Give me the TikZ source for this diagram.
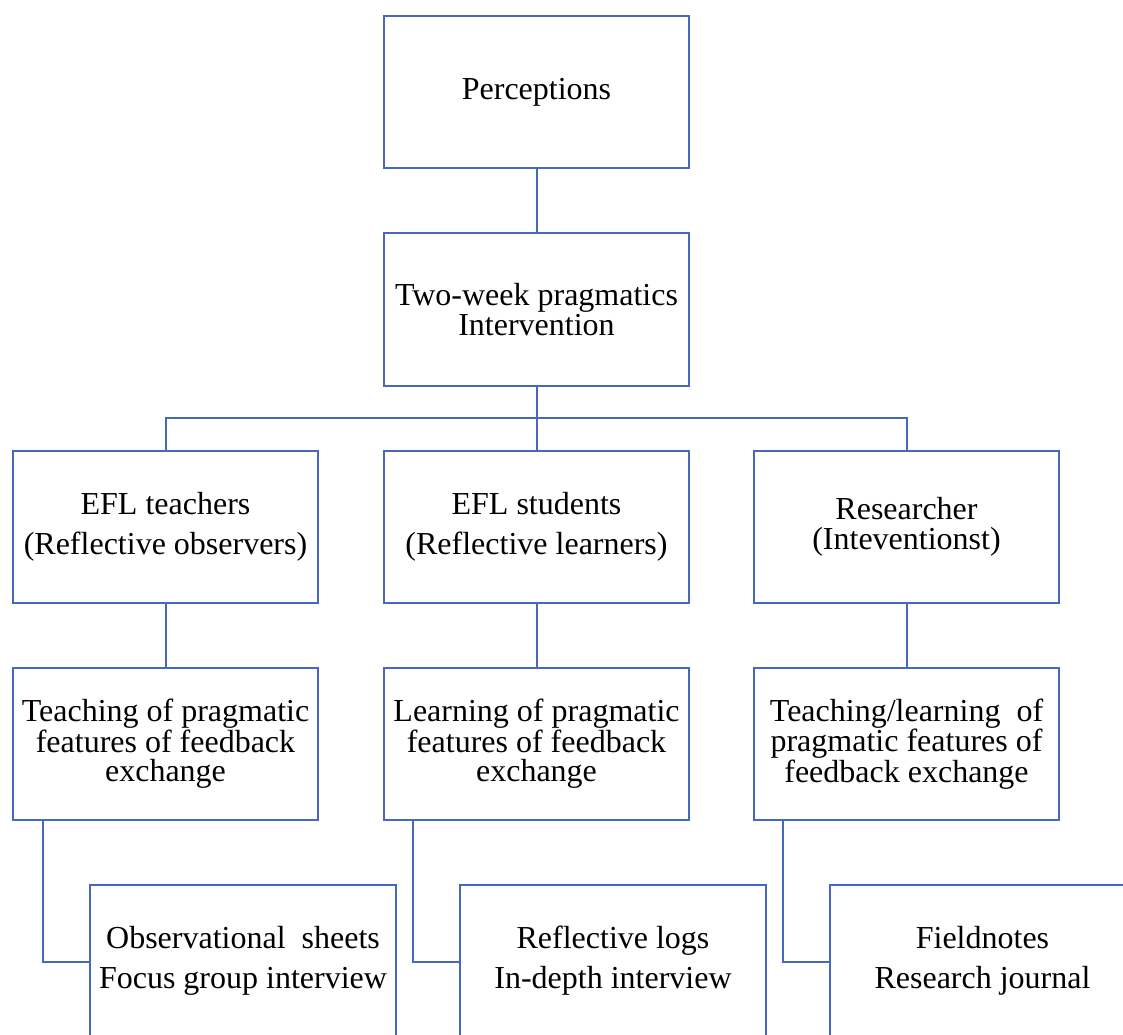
\documentclass[tikz,border=0pt]{standalone}
\usepackage{fontspec}
\setmainfont{Liberation Serif}
\definecolor{boxblue}{RGB}{72,104,190}
\begin{document}
\begin{tikzpicture}[x=0.75pt,y=-0.75pt,
  box/.style={draw=boxblue,line width=1.5pt,minimum width=229pt,minimum height=114.5pt,inner sep=0pt,align=center,text=black},
  lowbox/.style={draw=boxblue,line width=1.5pt,minimum width=229pt,minimum height=130pt,inner sep=0pt,anchor=north},
  txt/.style={align=center,inner sep=0pt,text=black},
  wire/.style={draw=boxblue,line width=1.5pt},
  fA/.style={font=\fontsize{24}{30}\selectfont},
  fB/.style={font=\fontsize{24}{22}\selectfont},
  fC/.style={font=\fontsize{24}{22.5}\selectfont}]
\useasboundingbox (0,0) rectangle (1123,1034);
\clip (0,0) rectangle (1123,1034);
\node[box,fA] (P) at (536.5,92) {Perceptions};
\node[box,fC] (T) at (536.5,309.5) {Two-week pragmatics\\Intervention};
\node[box,fA] (E1) at (165.5,527) {EFL teachers\\(Reflective observers)};
\node[box,fA] (E2) at (536.5,527) {EFL students\\(Reflective learners)};
\node[box,fC] (E3) at (906.5,527) {Researcher\\(Inteventionst)};
\node[box,fB] (L1) at (165.5,744) {Teaching of pragmatic\\features of feedback\\exchange};
\node[box,fB] (L2) at (536.5,744) {Learning of pragmatic\\features of feedback\\exchange};
\node[box,fB] (L3) at (906.5,744) {Teaching/learning\ \ of\\pragmatic features of\\feedback exchange};
\node[lowbox] (B1) at (243,884) {};
\node[lowbox] (B2) at (613,884) {};
\node[lowbox] (B3) at (982.5,884) {};
\node[txt,fA] (t1) at (243,961) {Observational\ \ sheets\\Focus group interview};
\node[txt,fA] (t2) at (613,961) {Reflective logs\\In-depth interview};
\node[txt,fA] (t3) at (982.5,961) {Fieldnotes\\Research journal};
\coordinate (bar) at (536.5,418);
\coordinate (k1) at (43,962);
\coordinate (k2) at (413,962);
\coordinate (k3) at (783,962);
\draw[wire] (P) -- (T);
\draw[wire] (T) -- (E2);
\draw[wire] (E1.north) -- (E1.north |- bar) -- (E3.north |- bar) -- (E3.north);
\draw[wire] (E1) -- (L1);
\draw[wire] (E2) -- (L2);
\draw[wire] (E3) -- (L3);
\draw[wire] (L1.south -| k1) -- (k1) -- (k1 -| B1.west);
\draw[wire] (L2.south -| k2) -- (k2) -- (k2 -| B2.west);
\draw[wire] (L3.south -| k3) -- (k3) -- (k3 -| B3.west);
\end{tikzpicture}
\end{document}
